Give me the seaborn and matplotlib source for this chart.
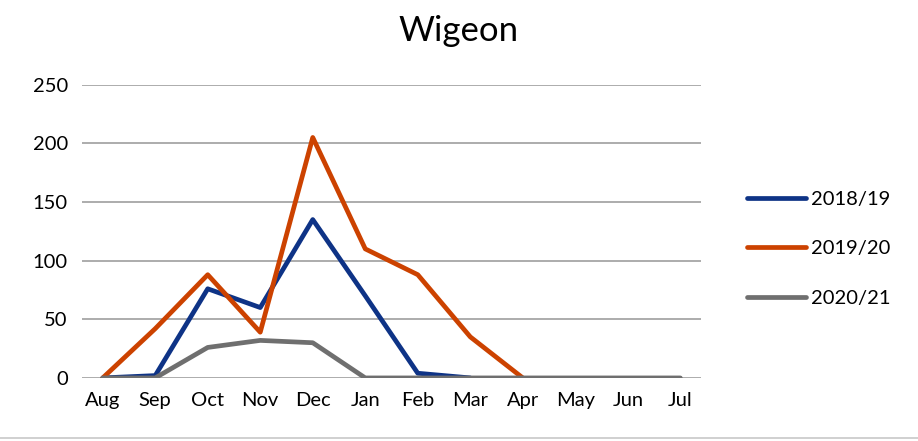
import numpy as np
import pandas as pd
import matplotlib
matplotlib.use("Agg")
import matplotlib.pyplot as plt
from matplotlib.lines import Line2D
import seaborn as sns

months = ["Aug", "Sep", "Oct", "Nov", "Dec", "Jan", "Feb", "Mar", "Apr", "May", "Jun", "Jul"]
s2018 = [0, 2, 76, 60, 135, 70, 4, 0, np.nan, np.nan, np.nan, np.nan]
s2019 = [0, 42, 88, 39, 205, 110, 88, 35, 0, np.nan, np.nan, np.nan]
s2020 = [0, 0, 26, 32, 30, 0, 0, 0, 0, 0, 0, 0]

df = pd.DataFrame({"Month": months, "2018/19": s2018, "2019/20": s2019, "2020/21": s2020})
long = df.melt(id_vars="Month", var_name="Season", value_name="Count")

sns.set_style("white")
plt.rcParams["font.family"] = ["Lato", "DejaVu Sans"]
plt.rcParams["text.color"] = "black"

fig = plt.figure(figsize=(9.18, 4.41), dpi=100)
ax = fig.add_axes([0.089, 0.143, 0.675, 0.665])

palette = {"2018/19": "#0E3386", "2019/20": "#CC4200", "2020/21": "#6F6F6F"}
sns.lineplot(data=long, x="Month", y="Count", hue="Season", palette=palette,
             linewidth=3.4, ax=ax, sort=False, solid_capstyle="round")

ax.set_ylim(0, 250)
ax.set_xlim(-0.4, 11.4)
ax.set_yticks(range(0, 251, 50))
ax.yaxis.grid(True, color="#A6A6A6", linewidth=1.3)
ax.set_axisbelow(True)
for sp in ax.spines.values():
    sp.set_visible(False)
ax.tick_params(axis="both", length=0, labelsize=14.5, pad=10, labelcolor="black")
ax.set_xlabel("")
ax.set_ylabel("")
fig.suptitle("Wigeon", fontsize=25, x=0.5, y=0.967, color="black")

leg = ax.legend(loc="center left", bbox_to_anchor=(1.045, 0.44), frameon=False,
                fontsize=14.5, labelspacing=1.6, handlelength=2.9, handletextpad=0.25)
for line in leg.get_lines():
    line.set_linewidth(3.4)

# thin border line along the bottom of the picture
fig.add_artist(Line2D([0, 1], [0.007, 0.007], transform=fig.transFigure,
                      color="#C8C8C8", linewidth=1.2))

fig.savefig("out.png", dpi=100, facecolor="white")
